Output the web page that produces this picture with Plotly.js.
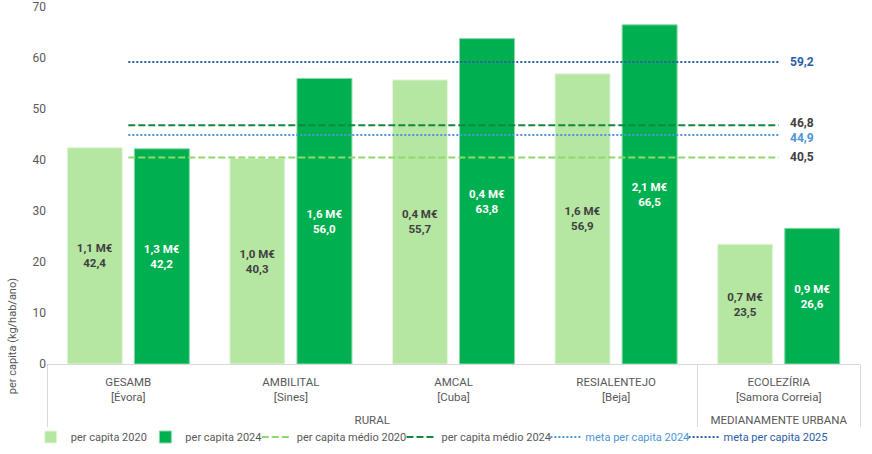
<!DOCTYPE html>
<html>
<head>
<meta charset="utf-8">
<script src="https://cdn.plot.ly/plotly-3.0.1.min.js"></script>
<style>
  html, body { margin: 0; padding: 0; background: #fff; }
  #chart { width: 872px; height: 454px; }
</style>
</head>
<body>
<div id="chart"></div>
<script>
// categories: entity, municipality, typology
const entities = ["GESAMB", "AMBILITAL", "AMCAL", "RESIALENTEJO", "ECOLEZÍRIA"];
const towns = ["Évora", "Sines", "Cuba", "Beja", "Samora Correia"];
const typology = ["RURAL", "RURAL", "RURAL", "RURAL", "MEDIANAMENTE URBANA"];

// per capita (kg/hab/ano)
const perCapita2020 = [42.4, 40.3, 55.7, 56.9, 23.5];
const perCapita2024 = [42.2, 56.0, 63.8, 66.5, 26.6];
// amounts in M€
const meur2020 = [1.1, 1.0, 0.4, 1.6, 0.7];
const meur2024 = [1.3, 1.6, 0.4, 2.1, 0.9];

// reference lines
const avg2020 = 40.5;
const avg2024 = 46.8;
const target2024 = 44.9;
const target2025 = 59.2;

const C = {
    light: "#b5e6a2", dark: "#00b050",
    avg20: "#8fd86a", avg24: "#12873f",
    tgt24: "#4e95d9", tgt25: "#2a5ea8",
    text: "#595959", label: "#404040",
};
const DASH = "7px,3px";
const DOT = "2px,2px";

const pt = (v) => v.toFixed(1).replace(".", ",");
// extra thin blank line pushes the outer level (RURAL...) further down
const x = [typology, entities.map((e, i) => `${e}<br>[${towns[i]}]<br><span style="font-size:9px"> </span>`)];

function barText(meur, vals) {
    return vals.map((v, i) => `${pt(meur[i])} M€<br>${pt(v)}`);
}

function refLine(val, name, color, dash, legend) {
    return {
        type: "scatter", mode: "lines", x, y: entities.map(() => val), name, legend,
        line: { color, dash, width: 2 }, hoverinfo: "skip",
    };
}

const traces = [
    {
        type: "bar", x, y: perCapita2020, name: "per capita 2020", legend: "legend",
        marker: { color: C.light, line: { color: "#e6f5df", width: 1 } },
        text: barText(meur2020, perCapita2020), textposition: "inside", insidetextanchor: "middle",
        textfont: { color: C.label, size: 11.5, weight: "bold" }, hoverinfo: "skip",
    },
    {
        type: "bar", x, y: perCapita2024, name: "per capita 2024", legend: "legend2",
        marker: { color: C.dark, line: { color: "#8ad9a8", width: 1 } },
        text: barText(meur2024, perCapita2024), textposition: "inside", insidetextanchor: "middle",
        textfont: { color: "#ffffff", size: 11.5, weight: "bold" }, hoverinfo: "skip",
    },
    refLine(avg2020, "per capita médio 2020", C.avg20, DASH, "legend3"),
    refLine(avg2024, "per capita médio 2024", C.avg24, DASH, "legend4"),
    refLine(target2024, `<span style="color:${C.tgt24}">meta per capita 2024</span>`, C.tgt24, DOT, "legend5"),
    refLine(target2025, `<span style="color:${C.tgt25}">meta per capita 2025</span>`, C.tgt25, DOT, "legend6"),
];

// value labels at the right end of each reference line (small shift keeps 46,8 / 44,9 apart)
const lineLabels = [
    [target2025, C.tgt25, 0], [avg2024, C.label, 2], [target2024, C.tgt24, -3], [avg2020, C.label, 0],
];

// one legend per entry so the row can be spaced like the original
const legendX = [-0.020, 0.121, 0.258, 0.436, 0.613, 0.783];
const legendBox = (lx) => ({
    orientation: "h", x: lx, xanchor: "left", y: -0.2045, yanchor: "middle",
    font: { size: 11, color: C.text }, itemwidth: 30, bgcolor: "rgba(0,0,0,0)",
});

const layout = {
    width: 872, height: 454,
    margin: { t: 7, r: 12, b: 90, l: 47, autoexpand: false },
    paper_bgcolor: "#ffffff", plot_bgcolor: "#ffffff",
    font: { family: "Roboto, 'Liberation Sans', sans-serif", color: C.text, size: 11 },
    barmode: "group", bargap: 0.175, bargroupgap: 0.18,
    showlegend: true,
    legend: legendBox(legendX[0]),
    legend2: legendBox(legendX[1]),
    legend3: legendBox(legendX[2]),
    legend4: legendBox(legendX[3]),
    legend5: legendBox(legendX[4]),
    legend6: legendBox(legendX[5]),
    xaxis: {
        type: "multicategory", automargin: false, showline: true, linecolor: "#d9d9d9", linewidth: 1,
        showdividers: true, dividercolor: "#d9d9d9", dividerwidth: 1,
        tickfont: { size: 11.5, color: C.text }, ticks: "", showgrid: false, ticklabelstandoff: 7,
    },
    yaxis: {
        range: [0, 70], dtick: 10, showgrid: false, zeroline: false, showline: false,
        tickfont: { size: 12, color: C.text }, ticks: "", automargin: false,
    },
    annotations: [
        {
            xref: "paper", yref: "paper", x: -0.043, y: 0.078, xanchor: "center", yanchor: "middle",
            textangle: -90, text: "per capita (kg/hab/ano)", showarrow: false,
            font: { size: 11, color: C.text },
        },
        ...lineLabels.map(([v, col, shift]) => ({
            xref: "paper", yref: "y", x: 0.911, y: v, xanchor: "left", yanchor: "middle", yshift: shift,
            text: `<b>${pt(v)}</b>`, showarrow: false, font: { size: 12, color: col },
        })),
    ],
};

Plotly.newPlot("chart", traces, layout, { displayModeBar: false, staticPlot: true });
</script>
</body>
</html>
